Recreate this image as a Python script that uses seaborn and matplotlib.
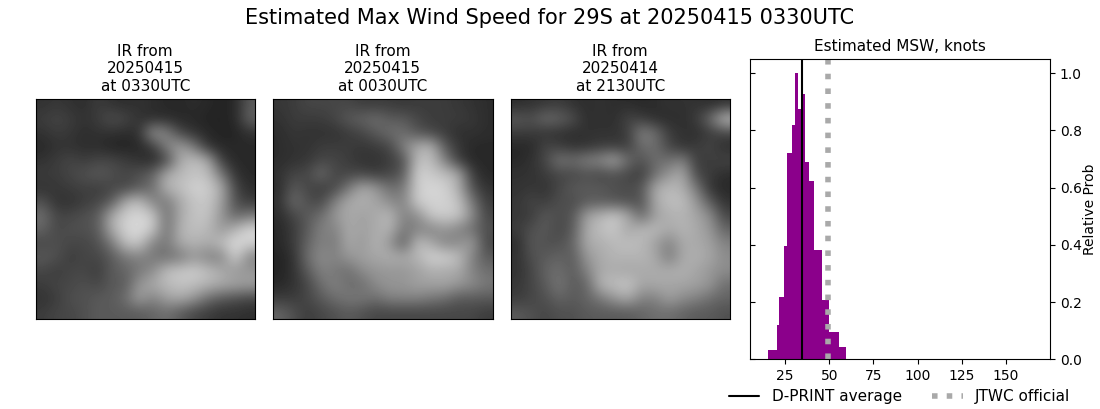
import numpy as np
import matplotlib
matplotlib.use("Agg")
import matplotlib.pyplot as plt
import matplotlib.lines as mlines
import seaborn as sns

sns.set_style("ticks")
plt.rcParams['font.family'] = ['DejaVu Sans']
plt.rcParams.update({"text.color": "black", "axes.labelcolor": "black", "axes.edgecolor": "black",
                     "xtick.color": "black", "ytick.color": "black",
                     "xtick.labelcolor": "black", "ytick.labelcolor": "black"})

# grey levels (coarse grid, rows top to bottom)
ir_0330 = [
    [50, 55, 50, 45, 60, 50, 45, 50, 45, 40, 40, 45, 40, 35, 40, 90],
    [60, 70, 60, 50, 60, 80, 70, 50, 45, 45, 40, 40, 35, 35, 40, 100],
    [50, 60, 55, 45, 50, 50, 45, 50, 150, 130, 70, 50, 40, 35, 35, 50],
    [40, 50, 50, 45, 45, 35, 35, 40, 60, 130, 160, 120, 50, 40, 40, 40],
    [50, 60, 70, 60, 70, 70, 60, 50, 40, 70, 170, 190, 170, 60, 40, 40],
    [60, 60, 70, 80, 90, 80, 70, 80, 100, 170, 185, 195, 190, 120, 50, 40],
    [50, 55, 60, 65, 60, 70, 70, 90, 110, 180, 190, 210, 205, 170, 70, 45],
    [80, 50, 50, 60, 70, 90, 170, 190, 130, 120, 170, 195, 200, 160, 80, 60],
    [110, 70, 70, 80, 90, 170, 205, 215, 200, 110, 170, 195, 195, 150, 100, 120],
    [100, 70, 80, 80, 90, 170, 210, 220, 200, 110, 180, 190, 185, 150, 180, 215],
    [70, 80, 70, 70, 80, 120, 190, 200, 130, 120, 170, 180, 170, 190, 220, 210],
    [90, 80, 60, 70, 70, 90, 120, 130, 120, 110, 120, 150, 130, 130, 210, 130],
    [70, 60, 70, 70, 60, 90, 100, 120, 140, 190, 200, 205, 190, 170, 150, 150],
    [60, 70, 70, 80, 70, 90, 90, 150, 170, 185, 195, 190, 180, 170, 165, 160],
    [50, 60, 80, 80, 90, 90, 110, 160, 130, 160, 170, 150, 110, 90, 80, 70],
    [60, 70, 70, 80, 90, 90, 90, 90, 100, 110, 90, 70, 60, 50, 50, 45],
]
ir_0030 = [
    [55, 60, 70, 70, 70, 70, 60, 60, 60, 55, 60, 60, 60, 55, 50, 45],
    [50, 60, 60, 60, 70, 90, 100, 110, 90, 90, 70, 60, 60, 60, 55, 45],
    [45, 55, 50, 50, 50, 60, 70, 90, 110, 110, 85, 70, 60, 45, 50, 45],
    [45, 50, 50, 60, 60, 60, 55, 60, 70, 130, 170, 180, 90, 55, 40, 40],
    [45, 50, 55, 70, 70, 60, 50, 50, 60, 80, 190, 190, 130, 60, 40, 40],
    [50, 70, 70, 110, 70, 70, 70, 60, 70, 90, 210, 200, 190, 170, 60, 40],
    [45, 90, 70, 60, 70, 120, 170, 150, 110, 120, 205, 215, 210, 175, 80, 50],
    [50, 110, 80, 70, 130, 170, 175, 165, 140, 130, 205, 210, 210, 195, 120, 60],
    [45, 70, 90, 110, 150, 170, 160, 170, 185, 130, 140, 200, 205, 200, 140, 70],
    [40, 60, 90, 130, 130, 170, 160, 170, 180, 120, 130, 130, 150, 130, 110, 80],
    [40, 60, 100, 130, 120, 170, 150, 180, 150, 90, 190, 170, 130, 140, 160, 70],
    [35, 50, 110, 140, 130, 150, 160, 165, 175, 170, 180, 210, 210, 190, 130, 90],
    [35, 50, 90, 130, 120, 110, 140, 150, 150, 150, 160, 175, 170, 170, 130, 110],
    [40, 50, 70, 110, 130, 110, 110, 140, 150, 150, 160, 160, 165, 150, 140, 120],
    [60, 60, 70, 90, 110, 120, 120, 110, 130, 130, 130, 120, 110, 90, 90, 90],
    [100, 80, 60, 70, 80, 90, 80, 70, 70, 70, 70, 70, 70, 70, 70, 60],
]
ir_2130 = [
    [45, 50, 55, 60, 50, 45, 50, 45, 45, 40, 45, 50, 50, 50, 45, 50],
    [90, 80, 110, 100, 80, 45, 50, 45, 70, 60, 45, 45, 45, 60, 110, 190],
    [60, 60, 50, 50, 45, 50, 50, 50, 60, 130, 110, 60, 50, 45, 60, 70],
    [40, 40, 70, 60, 50, 50, 60, 60, 60, 110, 110, 70, 50, 60, 70, 45],
    [40, 50, 70, 120, 110, 130, 140, 170, 110, 80, 110, 110, 130, 60, 60, 70],
    [50, 50, 60, 70, 70, 80, 70, 80, 70, 60, 110, 150, 170, 70, 60, 45],
    [50, 55, 50, 70, 90, 90, 90, 80, 75, 85, 170, 185, 175, 120, 50, 40],
    [55, 70, 60, 80, 75, 90, 90, 85, 80, 80, 170, 190, 190, 150, 90, 50],
    [55, 60, 90, 75, 85, 160, 180, 200, 170, 100, 160, 175, 180, 165, 140, 70],
    [60, 80, 90, 70, 90, 170, 190, 200, 165, 185, 185, 170, 180, 170, 150, 100],
    [45, 90, 80, 80, 100, 170, 175, 185, 190, 185, 160, 130, 170, 170, 160, 130],
    [50, 80, 90, 100, 90, 150, 170, 180, 180, 180, 170, 120, 170, 175, 165, 140],
    [50, 70, 100, 110, 90, 130, 170, 170, 165, 170, 170, 175, 175, 165, 150, 140],
    [55, 70, 90, 120, 90, 100, 180, 190, 200, 165, 170, 165, 165, 160, 150, 110],
    [60, 70, 80, 100, 90, 100, 120, 150, 170, 130, 130, 160, 140, 130, 110, 100],
    [90, 80, 70, 80, 80, 90, 90, 90, 90, 100, 110, 110, 100, 90, 90, 80],
]
ir_titles = ["IR from\n20250415\nat 0330UTC", "IR from\n20250415\nat 0030UTC", "IR from\n20250414\nat 2130UTC"]

# histogram of the wind estimate, knots
bin_edges = [15.2, 20.3, 21.4, 24.3, 26.0, 28.8, 30.5, 32.2, 33.9, 36.2, 38.4, 41.3, 45.8, 49.7, 55.4, 59.4]
rel_prob = [0.033, 0.12, 0.218, 0.396, 0.72, 0.82, 1.0, 0.875, 0.928, 0.69, 0.624, 0.382, 0.207, 0.096, 0.043]
dprint_avg = 34.5
jtwc_official = 49.2
wind_ticks = [25, 50, 75, 100, 125, 150]
prob_ticks = [0.0, 0.2, 0.4, 0.6, 0.8, 1.0]

W, H = 1100, 409


def px_axes(fig, left, top, right, bottom):
    return fig.add_axes([left / W, 1 - bottom / H, (right - left) / W, (bottom - top) / H])


fig = plt.figure(figsize=(W / 100, H / 100), dpi=100)
fig.suptitle("Estimated Max Wind Speed for 29S at 20250415 0330UTC", fontsize=15, x=0.5, y=0.98)

lefts = [35.5, 273, 510.5]
for left, grid, title in zip(lefts, [ir_0330, ir_0030, ir_2130], ir_titles):
    ax = px_axes(fig, left, 99, left + 219.5, 319.3)
    ax.set_facecolor("#3a3a3a")
    ax.imshow(np.array(grid), cmap="gray", vmin=0, vmax=255, interpolation="bicubic", aspect="auto")
    ax.set_xticks([])
    ax.set_yticks([])
    ax.set_title(title, fontsize=11, pad=6)
    for s in ax.spines.values():
        s.set_linewidth(0.8)
        s.set_color("black")

ax = px_axes(fig, 750.3, 59, 1050, 359.2)
sns.histplot(x=bin_edges[:-1], weights=rel_prob, bins=bin_edges, color="darkmagenta",
             alpha=1, linewidth=0, ax=ax)
ax.axvline(dprint_avg, color="black", lw=1.5, label="D-PRINT average")
ax.axvline(jtwc_official, color="darkgray", lw=4, ls=":", label="JTWC official")
ax.set_xlim(5.3, 175)
ax.set_ylim(0, 1.05)
ax.set_xticks(wind_ticks)
ax.set_yticks(prob_ticks)
ax.tick_params(axis="y", left=True, right=True, labelleft=False, labelright=True)
for t in ax.yaxis.get_major_ticks():
    t.tick1line.set_marker(mlines.TICKRIGHT)
ax.tick_params(labelsize=10)
ax.yaxis.set_label_position("right")
ax.set_ylabel("Relative Prob", fontsize=10, labelpad=1)
ax.set_xlabel("")
ax.set_title("Estimated MSW, knots", fontsize=11, pad=6)
for s in ax.spines.values():
    s.set_visible(True)
    s.set_linewidth(0.8)
    s.set_color("black")

fig.legend(*ax.get_legend_handles_labels(), loc="center", bbox_to_anchor=(899.5 / W, 1 - 397 / H),
           ncol=2, frameon=False, fontsize=11, columnspacing=2.0, handlelength=2.0)
fig.savefig("out.png", dpi=100)
